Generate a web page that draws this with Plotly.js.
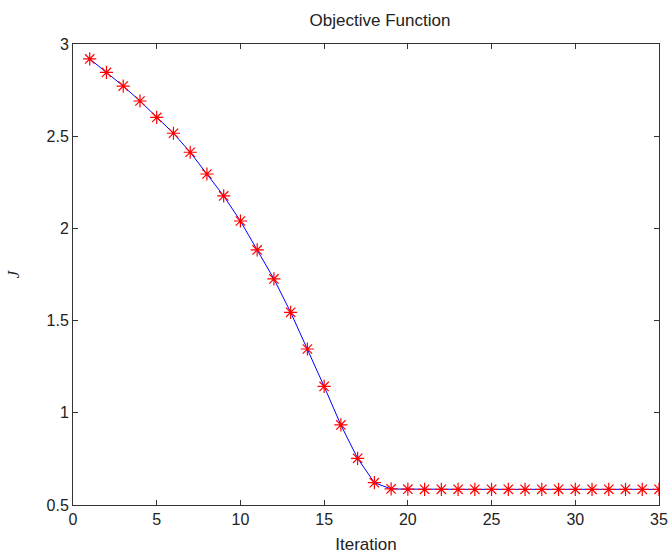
<!DOCTYPE html>
<html>
<head>
<meta charset="utf-8">
<script src="https://cdn.plot.ly/plotly-3.0.1.min.js"></script>
<style>html,body{margin:0;padding:0;background:#fff;}#chart{width:669px;height:558px;}</style>
</head>
<body>
<div id="chart"></div>
<script>
const iterations = [1,2,3,4,5,6,7,8,9,10,11,12,13,14,15,16,17,18,19,20,21,22,23,24,25,26,27,28,29,30,31,32,33,34,35];
const objective = [2.919,2.846,2.772,2.691,2.602,2.516,2.413,2.295,2.176,2.040,
                   1.883,1.726,1.545,1.346,1.143,0.934,0.753,0.621,0.587,0.586,
                   0.585,0.585,0.585,0.585,0.585,0.585,0.585,0.585,0.585,0.585,
                   0.585,0.585,0.585,0.585,0.585];
const xTicks = [0,5,10,15,20,25,30,35];
const yTicks = [0.5,1,1.5,2,2.5,3];
const yTickText = ['0.5','1','1.5','2','2.5','3'];

const tickFont = {family: 'Liberation Sans, Arial, sans-serif', size: 16, color: '#222'};

const traces = [
  {x: iterations, y: objective, type: 'scatter', mode: 'lines',
   line: {color: '#0000ff', width: 1}, hoverinfo: 'skip', showlegend: false},
  {x: iterations, y: objective, type: 'scatter', mode: 'markers',
   marker: {symbol: 'asterisk-open', size: 11, color: '#ff0000', line: {color: '#ff0000', width: 1.2}},
   showlegend: false}
];

const axisCommon = {
  showgrid: false, zeroline: false, showline: true, linecolor: '#333', linewidth: 1,
  mirror: 'ticks', ticks: 'inside', ticklen: 5, tickwidth: 1, tickcolor: '#333',
  tickfont: tickFont
};

const layout = {
  width: 669, height: 558,
  margin: {l: 73, r: 10, t: 44, b: 53, pad: 0},
  paper_bgcolor: '#fff', plot_bgcolor: '#fff',
  title: {text: 'Objective Function', font: {family: 'Liberation Sans, Arial, sans-serif', size: 17, color: '#222'},
          x: 0.568, xanchor: 'center', y: 0.964, yanchor: 'middle'},
  xaxis: Object.assign({}, axisCommon, {
    range: [0, 35], tickvals: xTicks, ticktext: xTicks.map(String),
    title: {text: 'Iteration', font: {family: 'Liberation Sans, Arial, sans-serif', size: 17, color: '#222'}, standoff: 10}
  }),
  yaxis: Object.assign({}, axisCommon, {
    range: [0.5, 3], tickvals: yTicks, ticktext: yTickText,
    title: {text: '<i>J</i>', font: {family: 'Liberation Serif, Times New Roman, serif', size: 17, color: '#222'}, standoff: 22}
  })
};

Plotly.newPlot('chart', traces, layout, {displayModeBar: false, staticPlot: true});
</script>
</body>
</html>
